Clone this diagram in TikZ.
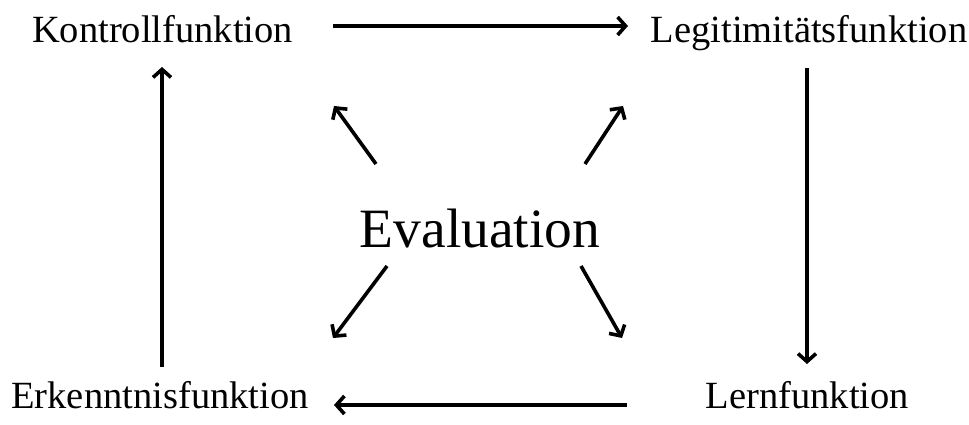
\documentclass[tikz,border=0pt]{standalone}
\usepackage{fontspec}
\setmainfont{Liberation Serif}
\usetikzlibrary{arrows.meta}
\begin{document}
\begin{tikzpicture}[x=1pt,y=-1pt,
  lbl/.style={anchor=base,inner sep=0pt,font=\fontsize{38.5}{40}\selectfont},
  ctr/.style={anchor=base,inner sep=0pt,font=\fontsize{55.5}{58}\selectfont},
  arr/.style={line width=3.6pt,-{Straight Barb[length=8pt,width=18pt,line width=3.6pt]}}]
\useasboundingbox[fill=white] (0,0) rectangle (969,425);
\node[lbl] (K) at (162.5,43) {Kontrollfunktion};
\node[lbl] (L) at (809,43) {Legitimitätsfunktion};
\node[lbl] (E) at (160,408) {Erkenntnisfunktion};
\node[lbl] (N) at (807.5,408) {Lernfunktion};
\node[ctr] (V) at (480,247) {Evaluation};
% main cycle ends
\coordinate (kA) at (333,26);  \coordinate (lA) at (628,26);
\coordinate (lB) at (807,68);  \coordinate (nB) at (807,364);
\coordinate (nC) at (627,405); \coordinate (eC) at (334,405);
\coordinate (eD) at (162,367); \coordinate (kD) at (162,67);
% diagonal ends
\coordinate (v1) at (376,164); \coordinate (t1) at (334,106);
\coordinate (v2) at (585,164); \coordinate (t2) at (623,106);
\coordinate (v3) at (387,266); \coordinate (t3) at (333,338);
\coordinate (v4) at (581,266); \coordinate (t4) at (622,338);
\draw[arr] (kA) -- (lA);
\draw[arr] (lB) -- (nB);
\draw[arr] (nC) -- (eC);
\draw[arr] (eD) -- (kD);
\draw[arr] (v1) -- (t1);
\draw[arr] (v2) -- (t2);
\draw[arr] (v3) -- (t3);
\draw[arr] (v4) -- (t4);
\end{tikzpicture}
\end{document}
